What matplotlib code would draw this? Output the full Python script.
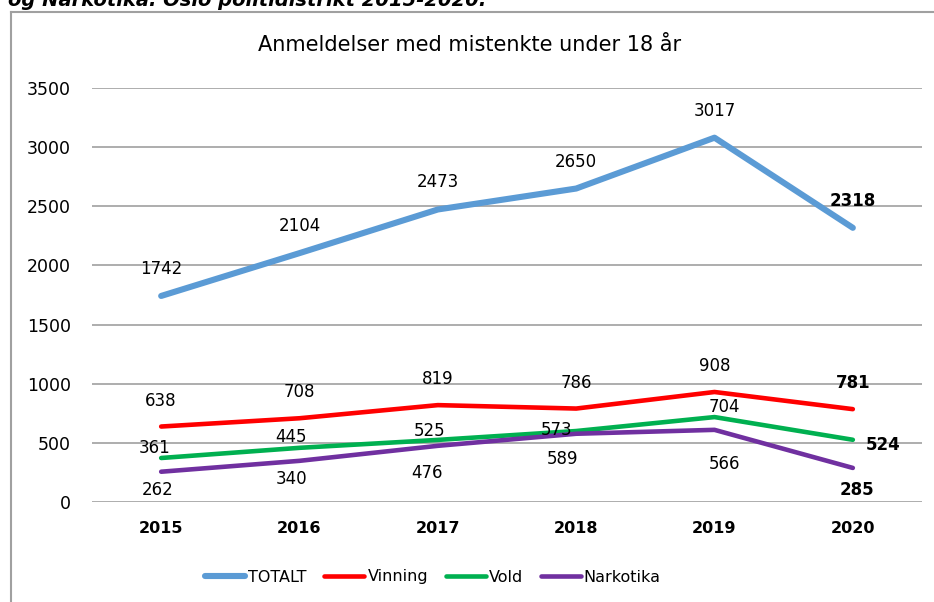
import numpy as np
import matplotlib
matplotlib.use('Agg')
import matplotlib.pyplot as plt
from matplotlib.lines import Line2D

years = ['2015', '2016', '2017', '2018', '2019', '2020']
series = ['TOTALT', 'Vinning', 'Vold', 'Narkotika']

# line values as drawn
totalt = [1742, 2104, 2473, 2650, 3080, 2318]
vinning = [638, 708, 819, 790, 930, 785]
vold = [372, 458, 525, 600, 718, 526]
narkotika = [256, 348, 475, 577, 610, 288]

# data labels as printed in the chart
totalt_lbl = ['1742', '2104', '2473', '2650', '3017', '2318']
vinning_lbl = ['638', '708', '819', '786', '908', '781']
vold_lbl = ['361', '445', '525', '573', '704', '524']
narkotika_lbl = ['262', '340', '476', '589', '566', '285']

title = 'Anmeldelser med mistenkte under 18 år'
heading = 'og Narkotika. Oslo politidistrikt 2015-2020.'

colors = ['#5B9BD5', '#FF0000', '#00B050', '#7030A0']
widths = [4.4, 3.3, 3.3, 3.3]

# label offsets in pixels (dx, dy) per point
offsets = [
    [(0, 27)] * 6,
    [(0, 26)] * 6,
    [(-7, 10), (-9, 11), (-8, 9), (-20, 1), (10, 10), (30, -5)],
    [(-4, -18), (-8, -18), (-11, -27), (-14, -25), (10, -34), (4, -22)],
]

fig = plt.figure(figsize=(9.34, 6.02), dpi=100)
ax = fig.add_axes([92 / 934, 100 / 602, 830 / 934, 414 / 602])

x = np.arange(len(years))
values = [totalt, vinning, vold, narkotika]
labels = [totalt_lbl, vinning_lbl, vold_lbl, narkotika_lbl]

for name, vals, lbls, c, w, offs in zip(series, values, labels, colors, widths, offsets):
    ax.plot(x, vals, color=c, lw=w, solid_capstyle='round', solid_joinstyle='round',
            label=name, zorder=3)
    for i, (v, t) in enumerate(zip(vals, lbls)):
        ax.annotate(t, (x[i], v), xytext=offs[i], textcoords='offset pixels',
                    ha='center', va='center', fontsize=12,
                    fontweight='bold' if i == len(x) - 1 else 'normal', zorder=4)

ax.set_xlim(-0.5, len(years) - 0.5)
ax.set_ylim(0, 3500)
ax.set_yticks(np.arange(0, 3501, 500))
ax.set_xticks(x)
ax.set_xticklabels(years, fontweight='bold', fontsize=11.5)
ax.tick_params(axis='y', length=0, pad=15, labelsize=12.5)
ax.tick_params(axis='x', length=0, pad=14)
ax.grid(axis='y', color='#a0a0a0', lw=1.2)
ax.set_axisbelow(True)
for s in ax.spines.values():
    s.set_visible(False)

fig.text(470 / 934, 1 - 45 / 602, title, ha='center', va='center', fontsize=15)
fig.text(8 / 934, 1 - 1 / 602, heading, ha='left', va='center', fontsize=14,
         fontweight='bold', fontstyle='italic')

# chart frame (left and top edges visible)
fig.add_artist(Line2D([11 / 934, 11 / 934], [0, 1 - 12 / 602], transform=fig.transFigure,
                      color='#a0a0a0', lw=1.5))
fig.add_artist(Line2D([11 / 934, 1], [1 - 12 / 602, 1 - 12 / 602], transform=fig.transFigure,
                      color='#a0a0a0', lw=1.5))

leg = ax.legend(loc='center', bbox_to_anchor=(433 / 934, 1 - 577 / 602),
                bbox_transform=fig.transFigure, ncol=4, frameon=False, fontsize=11.5,
                handlelength=2.5, handletextpad=0.2, columnspacing=1.1)

fig.savefig('out.png', dpi=100)
